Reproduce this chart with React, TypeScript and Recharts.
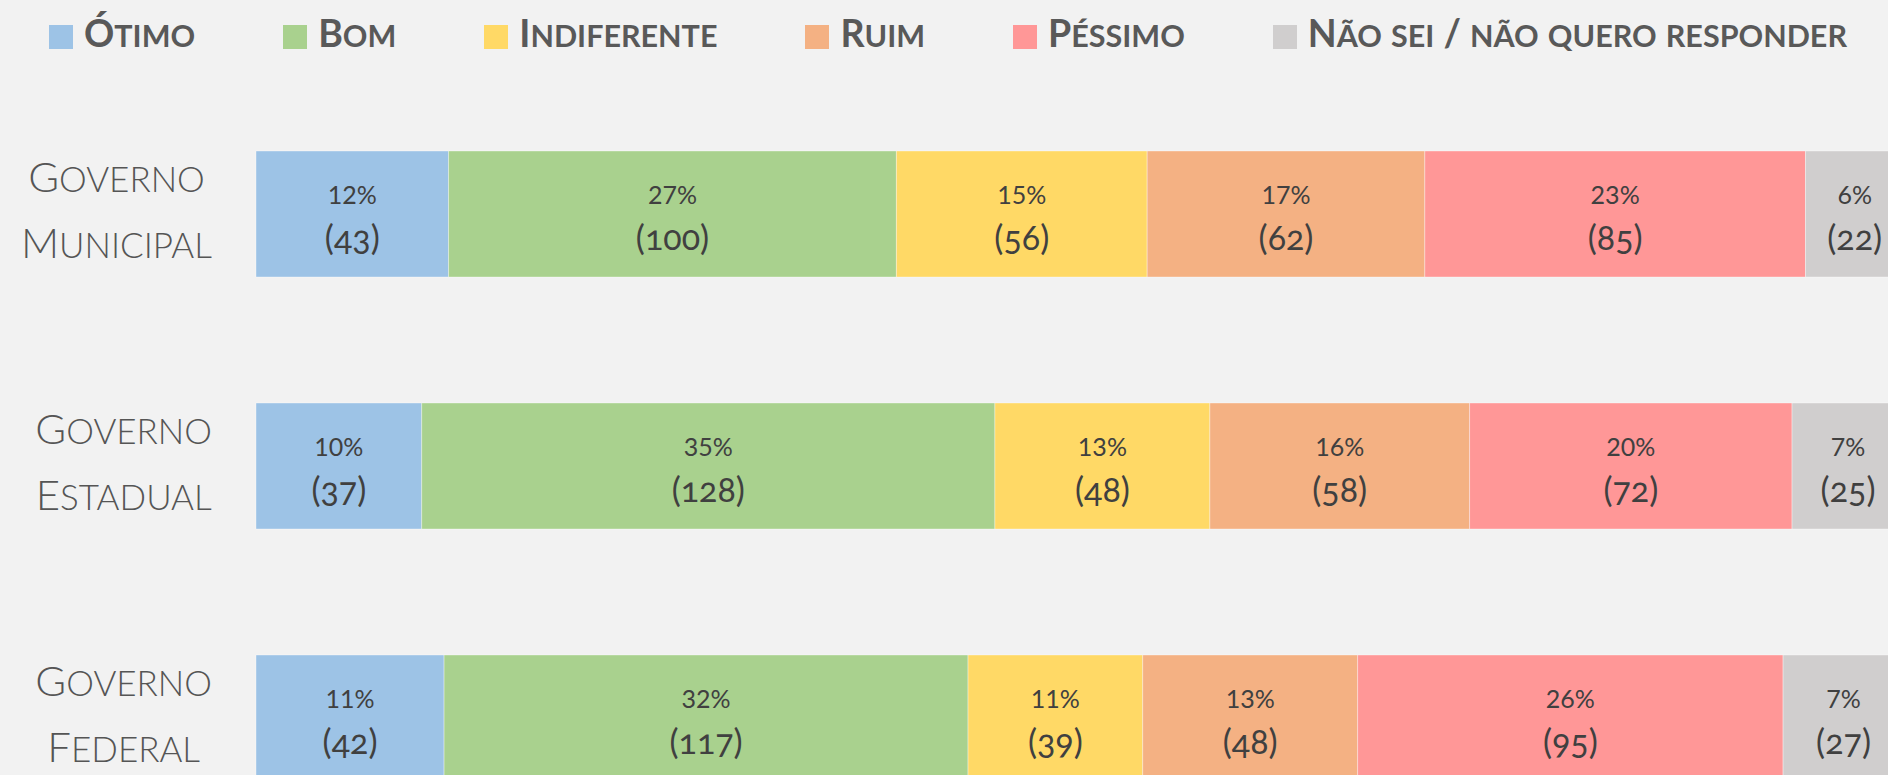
import React from "react";
import { BarChart, Bar, XAxis, YAxis, Legend, LabelList } from "recharts";

const categories = ["Governo Municipal", "Governo Estadual", "Governo Federal"];

const seriesNames = ["Ótimo", "Bom", "Indiferente", "Ruim", "Péssimo", "Não sei / não quero responder"];
const seriesKeys = ["otimo", "bom", "indiferente", "ruim", "pessimo", "naoSei"];
const seriesColors = ["#9DC3E6", "#A9D18E", "#FFD966", "#F4B183", "#FF9797", "#D0CECE"];

const otimo = [43, 37, 42];
const bom = [100, 128, 117];
const indiferente = [56, 48, 39];
const ruim = [62, 58, 48];
const pessimo = [85, 72, 95];
const naoSei = [22, 25, 27];

const seriesValues = [otimo, bom, indiferente, ruim, pessimo, naoSei];

const data = categories.map((name, i) => {
  const row: Record<string, string | number> = { name };
  seriesKeys.forEach((k, s) => (row[k] = seriesValues[s][i]));
  return row;
});
const totals = categories.map((_, i) => seriesValues.reduce((sum, v) => sum + v[i], 0));

const FONT = "Lato, 'Open Sans', sans-serif";

// fake small caps: capitals big, lowercase as smaller capitals
function smallCaps(text: string, big: number, small: number) {
  const parts: { t: string; lower: boolean }[] = [];
  for (const ch of text) {
    const lower = ch !== ch.toUpperCase();
    const last = parts[parts.length - 1];
    if (last && last.lower === lower) last.t += ch;
    else parts.push({ t: ch, lower });
  }
  return parts.map((p, i) => (
    <span key={i} style={{ fontSize: p.lower ? small : big }}>
      {p.lower ? p.t.toUpperCase() : p.t}
    </span>
  ));
}

const CategoryTick = (props: any) => {
  const { y, payload } = props;
  const words = String(payload.value).split(" ");
  return (
    <foreignObject x={0} y={y - 70} width={212} height={140}>
      <div style={{ display: "flex", justifyContent: "flex-end", alignItems: "center", height: "100%" }}>
        <div
          style={{
            textAlign: "center",
            lineHeight: "56px",
            color: "#555555",
            fontFamily: FONT,
            fontWeight: 300,
            whiteSpace: "nowrap",
          }}
        >
          {words.map((w) => (
            <div key={w}>{smallCaps(w, 42, 35)}</div>
          ))}
        </div>
      </div>
    </foreignObject>
  );
};

const renderLegend = () => (
  <div style={{ display: "flex", alignItems: "center", paddingLeft: 49, paddingTop: 21 }}>
    {seriesNames.map((n, i) => (
      <div key={n} style={{ display: "flex", alignItems: "center", marginRight: 88 }}>
        <div style={{ width: 24, height: 24, background: seriesColors[i], marginRight: 11 }} />
        <div
          style={{
            fontFamily: FONT,
            fontWeight: 700,
            color: "#595959",
            lineHeight: "24px",
            whiteSpace: "nowrap",
          }}
        >
          {smallCaps(n, 37.5, 30.5)}
        </div>
      </div>
    ))}
  </div>
);

const makeLabel = (props: any) => {
  const { x, y, width, height, value, index } = props;
  const cx = Number(x) + Number(width) / 2;
  const cy = Number(y) + Number(height) / 2;
  const pct = Math.round((Number(value) / totals[index]) * 100);
  return (
    <text textAnchor="middle" fill="#404040" fontFamily={FONT}>
      <tspan x={cx} y={cy - 10} fontSize={25}>
        {pct}%
      </tspan>
      <tspan x={cx} y={cy + 36} fontSize={34} style={{ fontVariantNumeric: "oldstyle-nums" }}>
        ({value})
      </tspan>
    </text>
  );
};

export default function App() {
  return (
    <div
      style={{
        position: "absolute",
        left: 0,
        top: 0,
        width: 1888,
        height: 775,
        overflow: "hidden",
        background: "#F2F2F2",
      }}
    >
      <BarChart
        width={1904}
        height={849}
        data={data}
        layout="vertical"
        stackOffset="expand"
        barCategoryGap="25%"
        margin={{ top: 0, right: 0, bottom: 5, left: 0 }}
      >
        <Legend
          verticalAlign="top"
          align="left"
          content={renderLegend}
          wrapperStyle={{ top: 0, left: 0, width: 1888, height: 88 }}
        />
        <XAxis type="number" domain={[0, 1]} hide />
        <YAxis
          type="category"
          dataKey="name"
          width={256}
          axisLine={false}
          tickLine={false}
          tick={<CategoryTick />}
        />
        {seriesKeys.map((k, i) => (
          <Bar
            key={k}
            dataKey={k}
            name={seriesNames[i]}
            stackId="a"
            fill={seriesColors[i]}
            stroke="#ffffff"
            strokeOpacity={0.35}
            strokeWidth={1}
            isAnimationActive={false}
          >
            <LabelList dataKey={k} content={makeLabel} />
          </Bar>
        ))}
      </BarChart>
    </div>
  );
}
